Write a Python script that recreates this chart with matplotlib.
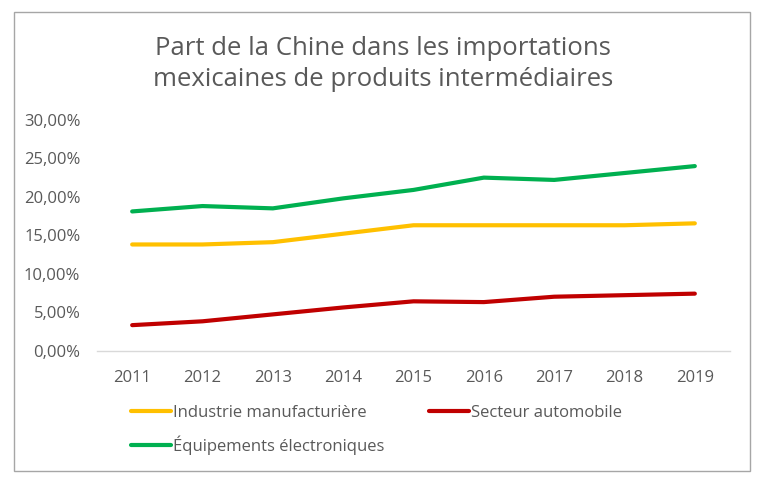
import matplotlib
matplotlib.use("Agg")
import matplotlib.pyplot as plt
from matplotlib.patches import Rectangle
from matplotlib.ticker import FuncFormatter

plt.rcParams['font.family'] = ['Open Sans', 'DejaVu Sans']

# Donnees (en %)
annees = [2011, 2012, 2013, 2014, 2015, 2016, 2017, 2018, 2019]
industrie = [13.8, 13.8, 14.1, 15.2, 16.3, 16.3, 16.3, 16.3, 16.55]
automobile = [3.3, 3.8, 4.7, 5.6, 6.4, 6.3, 7.0, 7.2, 7.4]
electronique = [18.1, 18.8, 18.5, 19.8, 20.9, 22.5, 22.2, 23.1, 24.0]

noms = ["Industrie manufacturière", "Secteur automobile", "Équipements électroniques"]
couleurs = ["#FFC000", "#C00000", "#00B050"]
GRIS = "#595959"

fig = plt.figure(figsize=(7.7, 4.86), dpi=100)
ax = fig.add_axes([97/770, 1 - 350.5/486, (730-97)/770, (350.5-120)/486])

x = list(range(len(annees)))
lignes = []
for serie, nom, coul in zip([industrie, automobile, electronique], noms, couleurs):
    l, = ax.plot(x, serie, color=coul, lw=3, label=nom, solid_capstyle='round')
    lignes.append(l)

ax.set_xlim(-0.5, len(annees) - 0.5)
ax.set_ylim(0, 30)
ax.set_xticks(x)
ax.set_xticklabels([str(a) for a in annees])
ax.set_yticks(range(0, 31, 5))
ax.yaxis.set_major_formatter(FuncFormatter(lambda v, p: f"{v:.2f}".replace('.', ',') + "%"))
ax.tick_params(axis='both', length=0, labelsize=12, colors=GRIS)
ax.tick_params(axis='x', pad=14)
ax.tick_params(axis='y', pad=12)
for s in ['top', 'right', 'left']:
    ax.spines[s].set_visible(False)
ax.spines['bottom'].set_color("#D9D9D9")
ax.spines['bottom'].set_linewidth(1)

fig.text(383/770, 1 - 64/486, "Part de la Chine dans les importations\nmexicaines de produits intermédiaires",
         ha='center', va='center', fontsize=18.5, color=GRIS, linespacing=1.3)

# ordre pour remplir ligne par ligne : Industrie, Secteur / Equipements
ordre = [lignes[0], lignes[2], lignes[1]]
leg = fig.legend(ordre, [l.get_label() for l in ordre], loc='upper left',
                 bbox_to_anchor=(116/770, 1 - 390/486), ncol=2,
                 frameon=False, fontsize=12, handlelength=2.4, handletextpad=0.1,
                 columnspacing=2.7, labelspacing=0.85)
for t in leg.get_texts():
    t.set_color(GRIS)

fig.add_artist(Rectangle((14/770, 1 - 471/486), (750-14)/770, (471-12)/486,
                         transform=fig.transFigure, fill=False, edgecolor="#A6A6A6", lw=1))

fig.savefig("out.png", dpi=100)
